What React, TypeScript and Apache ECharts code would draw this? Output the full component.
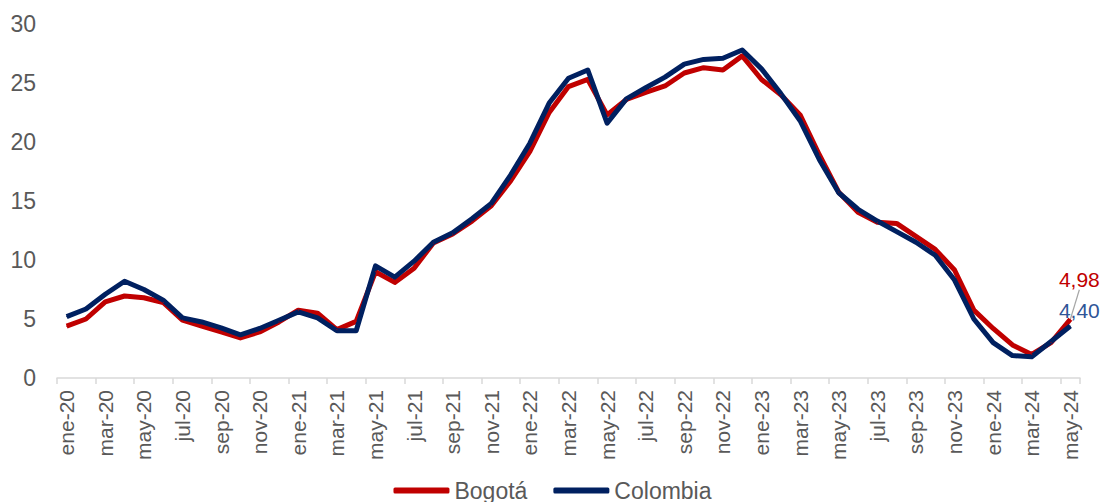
import React, { useEffect, useRef } from "react";
import * as echarts from "echarts";

const MONTHS = ["ene", "feb", "mar", "abr", "may", "jun", "jul", "ago", "sep", "oct", "nov", "dic"];
const YEARS = ["20", "21", "22", "23", "24"];
const categories: string[] = [];
YEARS.forEach((y) => MONTHS.forEach((m) => categories.push(`${m}-${y}`)));
categories.splice(53);

const bogota = [
  4.4, 5.0, 6.45, 6.95, 6.8, 6.4, 4.9, 4.4, 3.9, 3.4, 3.9, 4.75,
  5.75, 5.5, 4.1, 4.8, 9.0, 8.1, 9.3, 11.45, 12.2, 13.3, 14.6, 16.7,
  19.2, 22.5, 24.7, 25.3, 22.3, 23.6, 24.2, 24.75, 25.85, 26.3, 26.1, 27.3,
  25.3, 24.0, 22.3, 18.9, 15.75, 14.05, 13.2, 13.1, 12.0, 10.9, 9.15, 5.75,
  4.2, 2.8, 2.0, 3.0, 4.98,
];
const colombia = [
  5.2, 5.85, 7.1, 8.2, 7.5, 6.6, 5.1, 4.75, 4.25, 3.65, 4.2, 4.9,
  5.6, 5.1, 4.0, 4.0, 9.5, 8.55, 9.9, 11.5, 12.3, 13.5, 14.8, 17.2,
  19.9, 23.3, 25.4, 26.1, 21.6, 23.65, 24.6, 25.5, 26.6, 27.0, 27.1, 27.8,
  26.2, 24.1, 21.8, 18.5, 15.7, 14.3, 13.3, 12.4, 11.5, 10.4, 8.3, 5.0,
  3.0, 1.9, 1.8, 3.1, 4.4,
];
const yTicks = { min: 0, max: 30, interval: 5 };

const FONT = "'Liberation Sans', Arial, sans-serif";
const GRAY = "#595959";

function withEndLabel(values: number[], color: string) {
  return values.map((v, i) =>
    i === values.length - 1
      ? {
          value: v,
          label: {
            show: true,
            position: "inside",
            formatter: (p: any) => String(p.value.toFixed(2)).replace(".", ","),
            color,
            fontSize: 21,
            fontFamily: FONT,
          },
        }
      : v
  );
}

export default function App() {
  const ref = useRef<HTMLDivElement>(null);
  useEffect(() => {
    document.body.style.margin = "0";
    const chart = echarts.init(ref.current!, undefined, { renderer: "svg" });
    chart.setOption({
      animation: false,
      backgroundColor: "#ffffff",
      grid: { left: 57, right: 25, top: 24, bottom: 124, containLabel: false },
      legend: {
        data: ["Bogotá", "Colombia"],
        left: "center",
        top: 474,
        icon: "roundRect",
        itemWidth: 56,
        itemHeight: 6,
        itemGap: 26,
        textStyle: { color: GRAY, fontSize: 23, fontFamily: FONT },
      },
      xAxis: {
        type: "category",
        data: categories,
        boundaryGap: true,
        axisLine: { show: true, lineStyle: { color: "#D9D9D9", width: 1.5 } },
        axisTick: { show: true, interval: 1, length: 6, lineStyle: { color: "#D9D9D9", width: 1.5 } },
        axisLabel: {
          interval: 1,
          rotate: 90,
          margin: 12,
          color: GRAY,
          fontSize: 21,
          fontFamily: FONT,
        },
        splitLine: { show: false },
      },
      yAxis: {
        type: "value",
        min: yTicks.min,
        max: yTicks.max,
        interval: yTicks.interval,
        axisLine: { show: false },
        axisTick: { show: false },
        splitLine: { show: false },
        axisLabel: { color: GRAY, fontSize: 23, fontFamily: FONT, margin: 21 },
      },
      series: [
        {
          name: "Bogotá",
          type: "line",
          data: withEndLabel(bogota, "#C00000"),
          symbol: "circle",
          symbolSize: 1,
          showSymbol: true,
          itemStyle: { color: "#C00000" },
          lineStyle: { color: "#C00000", width: 5, join: "round" },
          labelLayout: { dx: 9, dy: -40 },
          labelLine: { show: true, lineStyle: { color: "#A6A6A6", width: 1.2 } },
        },
        {
          name: "Colombia",
          type: "line",
          data: withEndLabel(colombia, "#2F5597"),
          symbol: "circle",
          symbolSize: 1,
          showSymbol: true,
          itemStyle: { color: "#002060" },
          lineStyle: { color: "#002060", width: 5, join: "round" },
          labelLayout: { dx: 9, dy: -16 },
        },
      ],
    });
    return () => chart.dispose();
  }, []);
  return <div ref={ref} style={{ width: 1105, height: 502 }} />;
}
